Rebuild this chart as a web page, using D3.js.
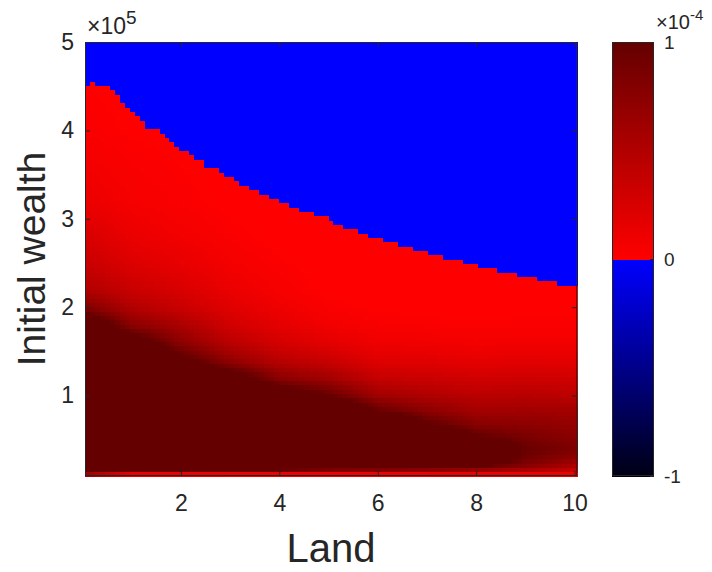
<!DOCTYPE html>
<meta charset="utf-8">
<style>
body { margin: 0; background: #fff; }
text { font-family: "Liberation Sans", Arial, sans-serif; fill: #262626; }
.tick line { stroke: #262626; }
.cells rect { shape-rendering: crispEdges; }
</style>
<body>
<svg width="712" height="572"></svg>
<script src="https://cdn.jsdelivr.net/npm/d3@7"></script>
<script>
// ticks (wealth in units of 1e5, colour values in units of 1e-4)
var landTicks = [2, 4, 6, 8, 10];
var wealthTicks = [1, 2, 3, 4, 5];
var cbarTicks = [-1, 0, 1];

// grid size of the image
var nLand = 99, nWealth = 100;

// wealth (x1e5) where the sign turns negative, one value per land column
var boundary = [4.53, 4.58, 4.53, 4.49, 4.49, 4.44, 4.39, 4.29, 4.24, 4.20,
  4.15, 4.10, 4.04, 4.04, 4.00, 3.95, 3.90, 3.85, 3.80, 3.75,
  3.75, 3.70, 3.65, 3.65, 3.60, 3.56, 3.56, 3.51, 3.46, 3.46,
  3.41, 3.36, 3.36, 3.31, 3.31, 3.26, 3.26, 3.22, 3.22, 3.17,
  3.17, 3.12, 3.12, 3.07, 3.07, 3.07, 3.02, 3.02, 3.02, 2.98,
  2.93, 2.93, 2.88, 2.88, 2.88, 2.83, 2.83, 2.78, 2.78, 2.78,
  2.73, 2.73, 2.73, 2.68, 2.68, 2.68, 2.63, 2.63, 2.63, 2.58,
  2.58, 2.58, 2.54, 2.54, 2.54, 2.54, 2.49, 2.49, 2.49, 2.44,
  2.44, 2.44, 2.44, 2.39, 2.39, 2.39, 2.39, 2.34, 2.34, 2.34,
  2.34, 2.29, 2.29, 2.29, 2.29, 2.245, 2.245, 2.245, 2.245];

// positive values (x1e-4) read at a few land / wealth positions
var profileLand = [0.1, 1, 2, 3, 4, 5, 6, 7, 8, 9, 10];
var profileWealth = [0.12, 0.17, 0.22, 0.3, 0.4, 0.55, 0.7, 0.85, 1.0, 1.2, 1.4, 1.6, 1.8, 2.0, 2.2, 2.5, 2.8, 3.2, 4.0, 5.0];
var profileValues = [
  [0.6, 1.6, 1.6, 1.6, 1.6, 1.6, 1.6, 1.6, 1.6, 1.6, 1.6, 1.6, 1.35, 0.8, 0.5, 0.35, 0.25, 0.12, 0.03, 0],
  [0.12, 1.6, 1.6, 1.6, 1.6, 1.6, 1.6, 1.6, 1.6, 1.6, 1.6, 1.25, 0.75, 0.5, 0.35, 0.22, 0.13, 0.06, 0.01, 0],
  [0.12, 1.6, 1.6, 1.6, 1.6, 1.6, 1.6, 1.6, 1.6, 1.6, 1.12, 0.75, 0.55, 0.35, 0.25, 0.15, 0.08, 0.03, 0, 0],
  [0.1, 1.4, 1.6, 1.6, 1.6, 1.6, 1.6, 1.6, 1.6, 1.25, 0.7, 0.45, 0.3, 0.2, 0.13, 0.07, 0.03, 0, 0, 0],
  [0.1, 1.1, 1.6, 1.6, 1.6, 1.6, 1.6, 1.6, 1.3, 0.75, 0.45, 0.28, 0.17, 0.1, 0.05, 0.02, 0, 0, 0, 0],
  [0.1, 0.95, 1.5, 1.6, 1.6, 1.6, 1.6, 1.6, 1.0, 0.6, 0.35, 0.18, 0.08, 0.03, 0, 0, 0, 0, 0, 0],
  [0.1, 0.9, 1.4, 1.6, 1.6, 1.6, 1.6, 0.95, 0.62, 0.38, 0.2, 0.1, 0.04, 0.01, 0, 0, 0, 0, 0, 0],
  [0.1, 0.85, 1.3, 1.6, 1.6, 1.5, 1.0, 0.72, 0.52, 0.34, 0.19, 0.09, 0.03, 0, 0, 0, 0, 0, 0, 0],
  [0.12, 0.75, 1.1, 1.5, 1.5, 1.0, 0.75, 0.58, 0.45, 0.3, 0.16, 0.07, 0.02, 0, 0, 0, 0, 0, 0, 0],
  [0.12, 0.6, 0.8, 0.92, 0.97, 0.85, 0.72, 0.6, 0.47, 0.32, 0.18, 0.08, 0.03, 0, 0, 0, 0, 0, 0, 0],
  [0.1, 0.42, 0.55, 0.72, 0.84, 0.75, 0.68, 0.58, 0.44, 0.3, 0.17, 0.08, 0.03, 0, 0, 0, 0, 0, 0, 0]
];

var svg = d3.select("svg"),
    mLeft = 85, mTop = 42, width = 492, height = 434;

var x = d3.scaleLinear().domain([0.0495, 10.0505]).range([mLeft, mLeft + width]),
    y = d3.scaleLinear().domain([0.09, 5.0]).range([mTop + height, mTop]);

var col = d3.scaleBand().domain(d3.range(nLand)).range([mLeft, mLeft + width]),
    row = d3.scaleBand().domain(d3.range(nWealth)).range([mTop + height, mTop]);

var color = d3.scaleLinear()
    .domain([-1, -1e-9, 0, 1])
    .range(["#000014", "#0000ff", "#ff0000", "#640000"])
    .clamp(true);

function lookup(L, W) {
  var i = Math.min(Math.max(d3.bisectRight(profileLand, L) - 1, 0), profileLand.length - 2);
  var j = Math.min(Math.max(d3.bisectRight(profileWealth, W) - 1, 0), profileWealth.length - 2);
  var fx = Math.max(0, Math.min(1, (L - profileLand[i]) / (profileLand[i + 1] - profileLand[i])));
  var fy = Math.max(0, Math.min(1, (W - profileWealth[j]) / (profileWealth[j + 1] - profileWealth[j])));
  var a = profileValues[i][j], b = profileValues[i + 1][j],
      c = profileValues[i][j + 1], d = profileValues[i + 1][j + 1];
  return (a * (1 - fx) + b * fx) * (1 - fy) + (c * (1 - fx) + d * fx) * fy;
}

var cells = [];
for (var i = 0; i < nLand; i++) {
  var L = x.invert(col(i) + col.bandwidth() / 2);
  for (var j = 0; j < nWealth; j++) {
    var W = y.invert(row(j) + row.bandwidth() / 2);
    var v = W < boundary[i] ? lookup(L, W) : -0.0001;
    cells.push({i: i, j: j, v: v});
  }
}

svg.append("g")
    .attr("class", "cells")
  .selectAll("rect")
  .data(cells)
  .enter().append("rect")
    .attr("x", function(d) { return col(d.i); })
    .attr("y", function(d) { return row(d.j); })
    .attr("width", col.bandwidth() + 0.6)
    .attr("height", row.bandwidth() + 0.6)
    .attr("fill", function(d) { return color(d.v); });

// box and ticks
svg.append("rect")
    .attr("x", mLeft + 0.5).attr("y", mTop + 0.5)
    .attr("width", width - 1).attr("height", height - 1)
    .attr("fill", "none").attr("stroke", "#262626");

var fmt = function(d) { return String(d); };

var xb = svg.append("g")
    .attr("transform", "translate(0," + (mTop + height) + ")")
    .call(d3.axisBottom(x).tickValues(landTicks).tickSize(-5).tickPadding(19).tickFormat(fmt));
var xt = svg.append("g")
    .attr("transform", "translate(0," + mTop + ")")
    .call(d3.axisTop(x).tickValues(landTicks).tickSize(-5).tickFormat(""));
var yl = svg.append("g")
    .attr("transform", "translate(" + mLeft + ",0)")
    .call(d3.axisLeft(y).tickValues(wealthTicks).tickSize(-5).tickPadding(11).tickFormat(fmt));
var yr = svg.append("g")
    .attr("transform", "translate(" + (mLeft + width) + ",0)")
    .call(d3.axisRight(y).tickValues(wealthTicks).tickSize(-5).tickFormat(""));

[xb, xt, yl, yr].forEach(function(g) {
  g.select(".domain").remove();
  g.selectAll("text").style("font-size", "23px").attr("fill", "#262626");
});

// exponent above y axis
var ex = svg.append("text").attr("x", 87).attr("y", 34).style("font-size", "23px");
ex.append("tspan").text("\u00d710");
ex.append("tspan").attr("dy", -10).style("font-size", "19px").text("5");

// axis labels
svg.append("text")
    .attr("x", mLeft + width / 2).attr("y", 562)
    .attr("text-anchor", "middle")
    .style("font-size", "40px")
    .text("Land");

svg.append("text")
    .attr("transform", "translate(45," + (mTop + height / 2) + ") rotate(-90)")
    .attr("text-anchor", "middle")
    .style("font-size", "39px")
    .text("Initial wealth");

// colorbar
var cbLeft = 612, cbWidth = 42;
var cy = d3.scaleLinear().domain([-1, 1]).range([mTop + height, mTop]);
var steps = d3.range(256).map(function(k) { return -1 + (k + 0.5) * 2 / 256; });

svg.append("g")
    .attr("class", "cells")
  .selectAll("rect")
  .data(steps)
  .enter().append("rect")
    .attr("x", cbLeft)
    .attr("y", function(d) { return cy(d + 1 / 256); })
    .attr("width", cbWidth)
    .attr("height", height / 256 + 0.6)
    .attr("fill", function(d) { return color(d); });

svg.append("rect")
    .attr("x", cbLeft + 0.5).attr("y", mTop + 0.5)
    .attr("width", cbWidth - 1).attr("height", height - 1)
    .attr("fill", "none").attr("stroke", "#262626");

var cb = svg.append("g")
    .attr("transform", "translate(" + (cbLeft + cbWidth) + ",0)")
    .call(d3.axisRight(cy).tickValues(cbarTicks).tickSize(-4).tickPadding(10).tickFormat(fmt));
cb.select(".domain").remove();
cb.selectAll("text").style("font-size", "19px").attr("fill", "#262626");

var ce = svg.append("text").attr("x", 656).attr("y", 29).style("font-size", "20px");
ce.append("tspan").text("\u00d710");
ce.append("tspan").attr("dy", -9).style("font-size", "15px").text("-4");
</script>
</body>
